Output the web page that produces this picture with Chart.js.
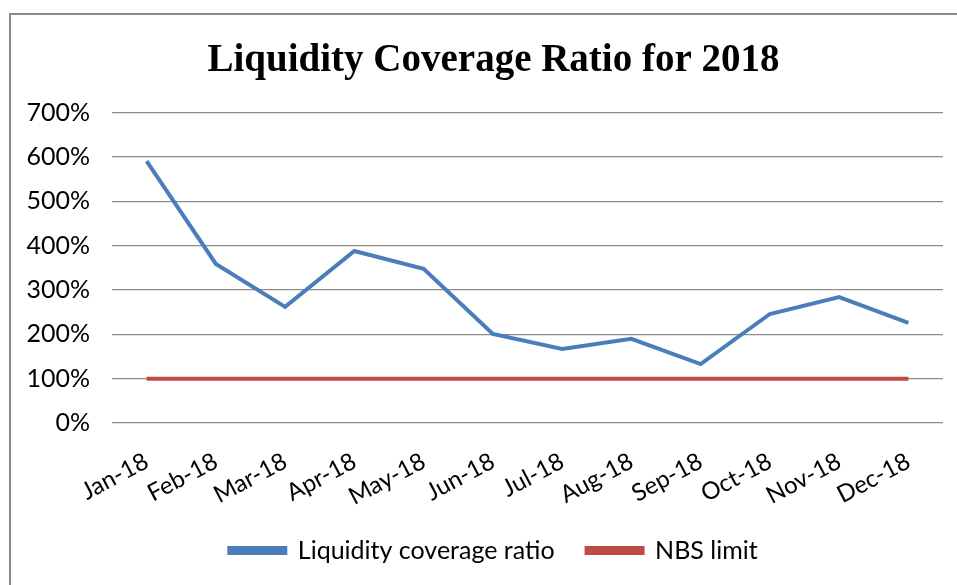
<!DOCTYPE html>
<html>
<head>
<meta charset="utf-8">
<script src="https://cdn.jsdelivr.net/npm/chart.js@4"></script>
<style>
  html, body { margin: 0; padding: 0; background: #fff; }
  #frame {
    position: absolute; left: 9px; top: 13px; width: 960px; height: 600px;
    border-left: 2px solid #8a8a8a; border-top: 2px solid #8a8a8a;
  }
  #wrap { position: absolute; left: 0; top: 0; width: 957px; height: 585px; }
</style>
</head>
<body>
<div id="frame"></div>
<div id="wrap"><canvas id="chart-line"></canvas></div>
<script>
// chart data
var months = ["Jan-18", "Feb-18", "Mar-18", "Apr-18", "May-18", "Jun-18",
              "Jul-18", "Aug-18", "Sep-18", "Oct-18", "Nov-18", "Dec-18"];
var lcrValues = [591, 359, 262, 388, 348, 201, 167, 190, 133, 246, 284, 226];
var nbsLimit = [100, 100, 100, 100, 100, 100, 100, 100, 100, 100, 100, 100];
var yTicks = [0, 100, 200, 300, 400, 500, 600, 700];

var ctx = document.getElementById("chart-line").getContext("2d");

// y labels are wider than the y box (left padding keeps title/legend centred), so widen the clip area
var unclipY = {
  id: "unclipY",
  afterLayout: function (chart) { chart.scales.y.left = 0; },
};

new Chart(ctx, {
  type: "line",
  data: {
    labels: months,
    datasets: [
      {
        label: "Liquidity coverage ratio",
        data: lcrValues,
        borderColor: "#4a7ebb",
        backgroundColor: "#4a7ebb",
        borderWidth: 4,
        pointRadius: 0,
        tension: 0,
        fill: false,
      },
      {
        label: "NBS limit",
        data: nbsLimit,
        borderColor: "#be4b48",
        backgroundColor: "#be4b48",
        borderWidth: 4,
        pointRadius: 0,
        tension: 0,
        fill: false,
      },
    ],
  },
  options: {
    responsive: true,
    maintainAspectRatio: false,
    animation: false,
    layout: { padding: { left: 44, right: 14, top: 0, bottom: 12 } },
    plugins: {
      title: {
        display: true,
        text: "Liquidity Coverage Ratio for 2018",
        color: "#000",
        font: { family: "Liberation Serif", size: 39, weight: "bold", lineHeight: 1.2 },
        padding: { top: 38, bottom: 28 },
      },
      legend: {
        position: "bottom",
        labels: {
          color: "#000",
          boxWidth: 56,
          boxHeight: 5,
          padding: 32,
          font: { family: "Lato", size: 25 },
        },
      },
      tooltip: { enabled: false },
    },
    scales: {
      y: {
        min: 0,
        max: 700,
        afterFit: function (scale) { scale.width = 68; },
        afterBuildTicks: function (scale) {
          scale.ticks = yTicks.map(function (v) { return { value: v }; });
        },
        border: { display: false },
        grid: { color: "#8c8c8c", lineWidth: 1.3, drawTicks: false },
        ticks: {
          padding: 22,
          color: "#000",
          font: { family: "Lato", size: 25 },
          callback: function (v) { return v + "%"; },
        },
      },
      x: {
        offset: true,
        afterFit: function (scale) { scale.height = 83; },
        border: { display: false },
        grid: { display: false },
        ticks: {
          padding: 16,
          minRotation: 28,
          maxRotation: 28,
          color: "#000",
          font: { family: "Lato", size: 24 },
        },
      },
    },
  },
  plugins: [unclipY],
});
</script>
</body>
</html>
